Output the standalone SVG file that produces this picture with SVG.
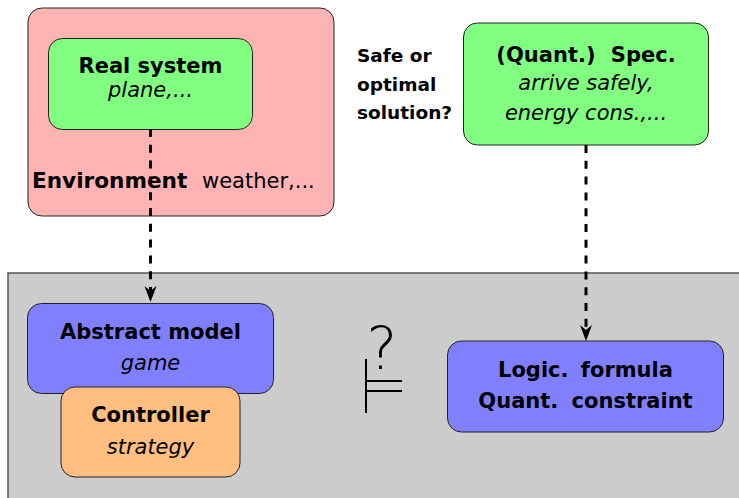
<svg xmlns="http://www.w3.org/2000/svg" width="739" height="498" viewBox="0 0 739 498">
<style>
text{font-family:"DejaVu Sans","Liberation Sans",sans-serif;font-size:21px;fill:#000}
.b{font-weight:bold}
.i{font-style:italic}
.m{text-anchor:middle}
.box{stroke:#222;stroke-width:1}
.dash{fill:none;stroke:#000;stroke-width:3;stroke-dasharray:8 7.8;marker-end:url(#arr)}
</style>
<defs>
<marker id="arr" markerUnits="userSpaceOnUse" viewBox="0 0 16 13" markerWidth="16" markerHeight="13" refX="10" refY="6.5" orient="auto">
<path d="M0,0.5 L16,6.5 L0,12.5 L5,6.5 Z" fill="#000"/>
</marker>
</defs>
<rect id="ground" x="8" y="273" width="740" height="240" fill="#cccccc" stroke="#555" stroke-width="1.5"/>
<g id="environment">
<rect class="box" x="28" y="8" width="306" height="208" rx="14" fill="#ffb3b3"/>
<text x="32" y="188"><tspan class="b" style="font-size:21.6px">Environment</tspan><tspan x="202">weather,...</tspan></text>
</g>
<g id="real-system">
<rect class="box" x="48.5" y="38.5" width="204" height="91" rx="14" fill="#80ff80"/>
<text class="b m" x="150.5" y="73">Real system</text>
<text class="i m" x="150.5" y="97">plane,...</text>
</g>
<g id="question">
<text class="b" x="357" y="62" style="font-size:18.5px">Safe or</text>
<text class="b" x="357" y="90.5" style="font-size:18.5px">optimal</text>
<text class="b" x="357" y="119" style="font-size:18.5px">solution?</text>
</g>
<g id="spec">
<rect class="box" x="463.5" y="23" width="245" height="122" rx="14" fill="#80ff80"/>
<text class="b m" x="586" y="62" word-spacing="8">(Quant.) Spec.</text>
<text class="i m" x="586" y="90">arrive safely,</text>
<text class="i m" x="586" y="120">energy cons.,...</text>
</g>
<g id="abstract-model">
<rect class="box" x="27.5" y="303.5" width="246" height="90" rx="14" fill="#8080ff"/>
<text class="b m" x="150.5" y="339">Abstract model</text>
<text class="i m" x="150.5" y="370">game</text>
</g>
<g id="controller">
<rect class="box" x="61" y="387" width="179" height="90" rx="14" fill="#ffbf80"/>
<text class="b m" x="150.5" y="422">Controller</text>
<text class="i m" x="150.5" y="454">strategy</text>
</g>
<g id="models">
<path d="M366,359 V413 M366,381 H402 M366,391 H402" fill="none" stroke="#000" stroke-width="2"/>
<text class="m" x="382" y="369" style="font-size:58px;font-weight:300">?</text>
</g>
<g id="formula">
<rect class="box" x="447.5" y="341" width="276" height="91" rx="14" fill="#8080ff"/>
<text class="b m" x="585.5" y="377" word-spacing="5">Logic. formula</text>
<text class="b m" x="585.5" y="408" word-spacing="6">Quant. constraint</text>
</g>
<g id="connectors">
<path class="dash" d="M150.5,129 V296"/>
<path class="dash" d="M586,145 V335"/>
</g>
</svg>
